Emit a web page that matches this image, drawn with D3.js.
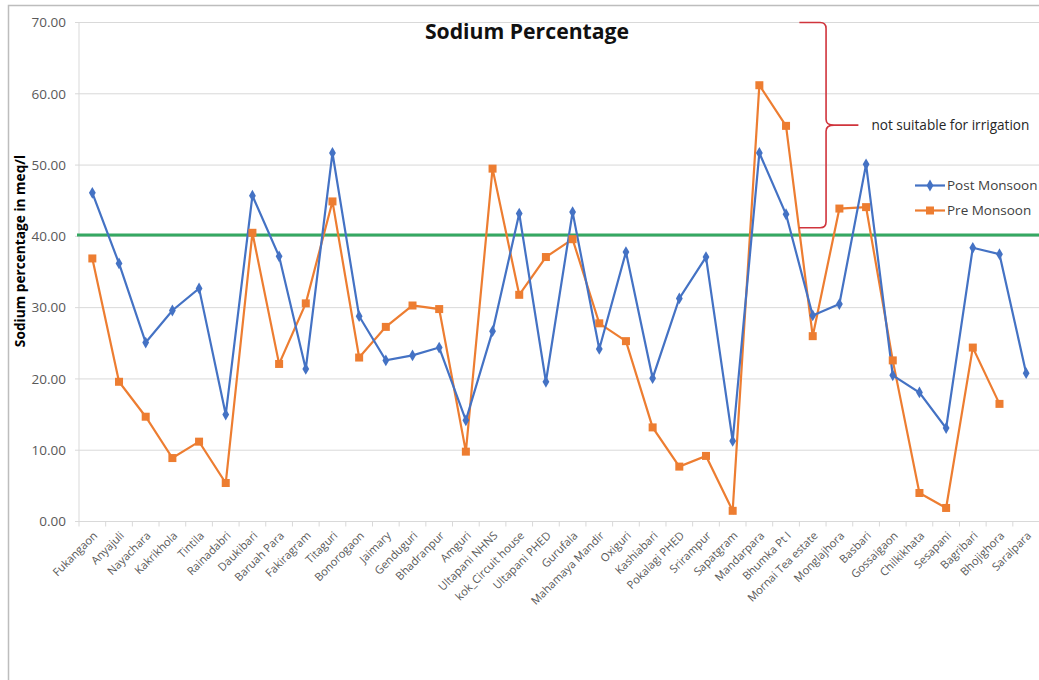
<!DOCTYPE html>
<html>
<head>
<meta charset="utf-8">
<script src="https://cdn.jsdelivr.net/npm/d3@7/dist/d3.min.js"></script>
<style>
  html, body { margin: 0; padding: 0; background: #fff; }
  svg { display: block; font-family: "Open Sans", "Noto Sans", sans-serif; }
</style>
</head>
<body>
<svg id="chart" width="1039" height="680"></svg>
<script>
// Sampling sites along the x axis
const sites = [
  "Fukangaon", "Anyajuli", "Nayachara", "Kakrikhola", "Tintila", "Rainadabri",
  "Daukibari", "Baruah Para", "Fakiragram", "Titaguri", "Bonorogaon", "Jaimary",
  "Genduguri", "Bhadranpur", "Amguri", "Ultapani NHNS", "kok_Circuit house",
  "Ultapani PHED", "Gurufala", "Mahamaya Mandir", "Oxiguri", "Kashiabari",
  "Pokalagi PHED", "Srirampur", "Sapatgram", "Mandarpara", "Bhumka Pt I",
  "Mornai Tea estate", "Monglajhora", "Basbari", "Gossaigaon", "Chilkikhata",
  "Sesapani", "Bagribari", "Bhojighora", "Saralpara"
];

// Sodium percentage, post monsoon
const postMonsoon = [
  46.1, 36.2, 25.1, 29.6, 32.7, 15.0, 45.7, 37.2, 21.4, 51.7, 28.8, 22.6,
  23.3, 24.4, 14.2, 26.7, 43.2, 19.6, 43.4, 24.2, 37.8, 20.1, 31.3, 37.1,
  11.3, 51.7, 43.1, 28.9, 30.5, 50.1, 20.5, 18.1, 13.1, 38.4, 37.5, 20.8
];

// Sodium percentage, pre monsoon (no sample at Saralpara)
const preMonsoon = [
  36.9, 19.6, 14.7, 8.9, 11.2, 5.4, 40.5, 22.1, 30.6, 44.9, 23.0, 27.3,
  30.3, 29.8, 9.8, 49.5, 31.8, 37.1, 39.6, 27.8, 25.3, 13.2, 7.7, 9.2,
  1.5, 61.2, 55.5, 26.0, 43.9, 44.1, 22.6, 4.0, 1.9, 24.4, 16.5, null
];

const yTicks = [0, 10, 20, 30, 40, 50, 60, 70];
const irrigationLimit = 40.2;          // green threshold line
const unsuitableRange = [70, 41.2];    // span marked by the brace
const seriesNames = ["Post Monsoon", "Pre Monsoon"];

const svg = d3.select("#chart");
const W = 1039, H = 680;
const plot = { left: 79, right: 1039.5, top: 22.5, bottom: 521.5 };

const x = d3.scaleBand().domain(sites).range([plot.left, plot.right]);
const y = d3.scaleLinear().domain([0, 70]).range([plot.bottom, plot.top]);
const cx = d => x(d) + x.bandwidth() / 2;

// chart frame
svg.append("path")
  .attr("d", `M8.5,${H} V5.5 H${W}`)
  .attr("fill", "none").attr("stroke", "#bdbdbd").attr("stroke-width", 1.5);

// horizontal gridlines
svg.append("g")
  .selectAll("line").data(yTicks.filter(t => t > 0)).join("line")
  .attr("x1", plot.left - 4).attr("x2", plot.right)
  .attr("y1", d => y(d)).attr("y2", d => y(d))
  .attr("stroke", "#d9d9d9").attr("stroke-width", 1);

// y tick labels
svg.append("g")
  .selectAll("text").data(yTicks).join("text")
  .attr("x", 66).attr("y", d => y(d)).attr("dy", "0.35em")
  .attr("text-anchor", "end").attr("font-size", 13.5).attr("fill", "#595959")
  .text(d => d3.format(".2f")(d));

// vertical axis line
svg.append("line")
  .attr("x1", plot.left).attr("x2", plot.left)
  .attr("y1", plot.top).attr("y2", plot.bottom)
  .attr("stroke", "#d9d9d9");

// x axis with tick marks at category boundaries
const xAxis = svg.append("g");
xAxis.append("line")
  .attr("x1", plot.left - 4).attr("x2", plot.right)
  .attr("y1", plot.bottom).attr("y2", plot.bottom)
  .attr("stroke", "#d9d9d9");
xAxis.selectAll("line.tick").data(sites).join("line")
  .attr("class", "tick")
  .attr("x1", d => x(d)).attr("x2", d => x(d))
  .attr("y1", plot.bottom).attr("y2", plot.bottom + 5)
  .attr("stroke", "#d9d9d9");
xAxis.selectAll("text").data(sites).join("text")
  .attr("transform", d => `translate(${cx(d) + 3},${plot.bottom + 12}) rotate(-45)`)
  .attr("text-anchor", "end").attr("dy", "0.35em")
  .attr("font-size", 11.2).attr("fill", "#595959")
  .text(d => d);

// y axis title
svg.append("text")
  .attr("transform", `translate(20,251) rotate(-90)`)
  .attr("text-anchor", "middle").attr("dy", "0.35em")
  .attr("font-size", 13.7).attr("font-weight", "bold").attr("fill", "#000")
  .text("Sodium percentage in meq/l");

// chart title
svg.append("text")
  .attr("x", 527).attr("y", 39)
  .attr("text-anchor", "middle")
  .attr("font-size", 21.2).attr("font-weight", "bold").attr("fill", "#111")
  .text("Sodium Percentage");

// irrigation threshold
svg.append("line")
  .attr("x1", plot.left - 2).attr("x2", plot.right)
  .attr("y1", y(irrigationLimit)).attr("y2", y(irrigationLimit))
  .attr("stroke", "#35a862").attr("stroke-width", 3);

// series lines and markers
const colors = { post: "#4472c4", pre: "#ed7d31" };
const line = d3.line()
  .defined(d => d.v != null)
  .x(d => cx(d.site)).y(d => y(d.v));

const postData = sites.map((s, i) => ({ site: s, v: postMonsoon[i] }));
const preData = sites.map((s, i) => ({ site: s, v: preMonsoon[i] }));

svg.append("path").datum(preData).attr("d", line)
  .attr("fill", "none").attr("stroke", colors.pre).attr("stroke-width", 2.2);
svg.append("path").datum(postData).attr("d", line)
  .attr("fill", "none").attr("stroke", colors.post).attr("stroke-width", 2.2);

const sq = 8;
svg.append("g").selectAll("rect").data(preData.filter(d => d.v != null)).join("rect")
  .attr("x", d => cx(d.site) - sq / 2).attr("y", d => y(d.v) - sq / 2)
  .attr("width", sq).attr("height", sq).attr("fill", colors.pre);

const diamond = d3.symbol().type(d3.symbolDiamond).size(40);
svg.append("g").selectAll("path").data(postData.filter(d => d.v != null)).join("path")
  .attr("transform", d => `translate(${cx(d.site)},${y(d.v)})`)
  .attr("d", diamond).attr("fill", colors.post);

// brace annotation for values above the threshold
const bx = x("Mornai Tea estate") + x.bandwidth();   // vertical stroke of the brace
const bLeft = x("Mornai Tea estate");
const bTop = y(unsuitableRange[0]), bBot = y(unsuitableRange[1]);
const bMid = (bTop + bBot) / 2;
const bTip = cx("Monglajhora") + 19;
const r = 6;
svg.append("path")
  .attr("d", [
    `M${bLeft},${bTop}`,
    `L${bx - r},${bTop}`,
    `Q${bx},${bTop} ${bx},${bTop + r}`,
    `L${bx},${bMid - r}`,
    `Q${bx},${bMid} ${bx + 8},${bMid}`,
    `L${bTip},${bMid}`,
    `M${bx + 8},${bMid}`,
    `Q${bx},${bMid} ${bx},${bMid + r}`,
    `L${bx},${bBot - r}`,
    `Q${bx},${bBot} ${bx - r},${bBot}`,
    `L${bLeft},${bBot}`
  ].join(" "))
  .attr("fill", "none").attr("stroke", "#d0343c").attr("stroke-width", 1.6);

svg.append("text")
  .attr("x", bTip + 13).attr("y", bMid).attr("dy", "0.35em")
  .attr("font-size", 13.6).attr("fill", "#262626")
  .text("not suitable for irrigation");

// legend
const legend = svg.append("g");
const legendItems = [
  { name: seriesNames[0], color: colors.post, mark: "diamond", yy: 185.5 },
  { name: seriesNames[1], color: colors.pre, mark: "square", yy: 210.5 }
];
legendItems.forEach(it => {
  legend.append("line")
    .attr("x1", 915).attr("x2", 945).attr("y1", it.yy).attr("y2", it.yy)
    .attr("stroke", it.color).attr("stroke-width", 2.2);
  if (it.mark === "diamond") {
    legend.append("path").attr("transform", `translate(930,${it.yy})`)
      .attr("d", diamond).attr("fill", it.color);
  } else {
    legend.append("rect").attr("x", 930 - sq / 2).attr("y", it.yy - sq / 2)
      .attr("width", sq).attr("height", sq).attr("fill", it.color);
  }
  legend.append("text")
    .attr("x", 947).attr("y", it.yy).attr("dy", "0.35em")
    .attr("font-size", 13.5).attr("fill", "#404040")
    .text(it.name);
});
</script>
</body>
</html>
